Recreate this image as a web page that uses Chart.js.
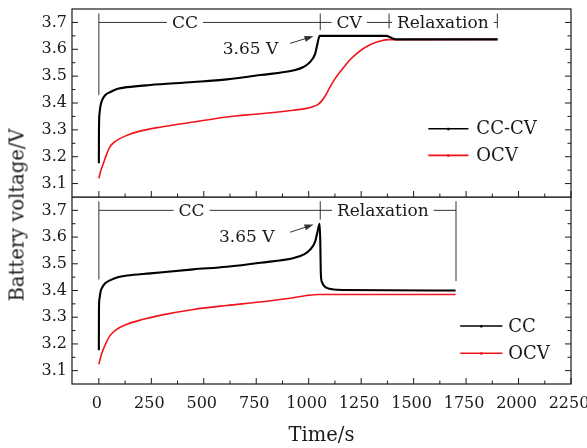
<!DOCTYPE html>
<html><head><meta charset="utf-8">
<script src="https://cdn.jsdelivr.net/npm/chart.js@4"></script>
<style>
html,body{margin:0;background:#fff}
#wrap{position:relative;width:587px;height:448px;overflow:hidden}
#top,#bot{position:absolute;left:0}
#top{top:0}
#bot{top:197px}
#ytitle{position:absolute;left:17px;top:215px;transform:translate(-50%,-50%) rotate(-90deg);font:19.5px "DejaVu Serif",serif;white-space:nowrap;color:#1a1a1a}
</style></head>
<body>
<div id="wrap">
  <canvas id="top" width="587" height="200"></canvas>
  <canvas id="bot" width="587" height="251"></canvas>
  <div id="ytitle">Battery voltage/V</div>
</div>
<script>
/* ── Data ── */
const xTicks = [0, 250, 500, 750, 1000, 1250, 1500, 1750, 2000, 2250];
const yTicks = [3.1, 3.2, 3.3, 3.4, 3.5, 3.6, 3.7];

// upper panel: CC-CV charge, then relaxation
const tCCCV = [0, 0.5, 3, 8, 15, 30, 55, 90, 135, 245, 450, 610, 770, 930, 975, 1007, 1031, 1042, 1052, 1370, 1385, 1400, 1415, 1900];
const vCCCV = [3.176, 3.30, 3.36, 3.39, 3.41, 3.429, 3.441, 3.453, 3.459, 3.467, 3.478, 3.488, 3.504, 3.522, 3.534, 3.553, 3.584, 3.622, 3.650, 3.650, 3.646, 3.640, 3.637, 3.637];
const tOCV1 = [0, 10, 21, 35, 52, 80, 132, 211, 291, 451, 609, 768, 927, 990, 1025, 1045, 1060, 1080, 1102, 1125, 1150, 1175, 1198, 1230, 1261, 1300, 1341, 1388, 1900];
const vOCV1 = [3.12, 3.15, 3.174, 3.205, 3.236, 3.258, 3.279, 3.298, 3.310, 3.329, 3.348, 3.360, 3.373, 3.380, 3.388, 3.395, 3.406, 3.428, 3.460, 3.490, 3.516, 3.541, 3.562, 3.585, 3.603, 3.620, 3.631, 3.636, 3.637];

// lower panel: CC charge, then relaxation
const tCC = [0, 0.5, 3, 8, 15, 30, 55, 90, 135, 245, 450, 610, 770, 930, 975, 1007, 1031, 1042, 1052, 1055, 1058, 1064, 1072, 1086, 1118, 1160, 1700];
const vCC = [3.176, 3.33, 3.37, 3.395, 3.41, 3.427, 3.439, 3.450, 3.456, 3.464, 3.479, 3.489, 3.504, 3.522, 3.534, 3.553, 3.584, 3.620, 3.650, 3.590, 3.460, 3.430, 3.418, 3.410, 3.404, 3.402, 3.400];
const tOCV2 = [0, 10, 21, 35, 52, 80, 132, 211, 291, 451, 609, 768, 927, 990, 1047, 1700];
const vOCV2 = [3.124, 3.155, 3.18, 3.205, 3.230, 3.252, 3.273, 3.292, 3.307, 3.329, 3.344, 3.357, 3.373, 3.381, 3.385, 3.385];

const namesTop = ['CC-CV', 'OCV'];
const namesBot = ['CC', 'OCV'];

/* ── Style ── */
const INK = '#1a1a1a', RED = '#f0141c';
const FONT = '"DejaVu Serif", serif';
Chart.defaults.font.family = FONT;
Chart.defaults.color = INK;

const pts = (ts, vs) => ts.map((t, i) => ({ x: t, y: vs[i] }));
const mids = arr => arr.slice(0, -1).map((v, i) => (v + arr[i + 1]) / 2);

/* ── Frame, inward ticks, brackets, legend ── */
const framePlugin = {
  id: 'frame',
  afterDatasetsDraw(chart, args, o) {
    const { ctx, chartArea: a, scales: { x, y } } = chart;
    const P = (t, v) => [x.getPixelForValue(t), y.getPixelForValue(v)];
    ctx.save();
    ctx.strokeStyle = INK; ctx.lineWidth = 1.2;
    ctx.strokeRect(a.left, a.top, a.right - a.left, a.bottom - a.top);

    ctx.lineWidth = 1;
    ctx.beginPath();
    yTicks.forEach(v => { const p = y.getPixelForValue(v); ctx.moveTo(a.left, p); ctx.lineTo(a.left + 6, p); ctx.moveTo(a.right, p); ctx.lineTo(a.right - 6, p); });
    mids(yTicks).forEach(v => { const p = y.getPixelForValue(v); ctx.moveTo(a.left, p); ctx.lineTo(a.left + 3.5, p); ctx.moveTo(a.right, p); ctx.lineTo(a.right - 3.5, p); });
    xTicks.forEach(t => { const p = x.getPixelForValue(t); ctx.moveTo(p, a.bottom); ctx.lineTo(p, a.bottom - 6); });
    mids(xTicks).forEach(t => { const p = x.getPixelForValue(t); ctx.moveTo(p, a.bottom); ctx.lineTo(p, a.bottom - 3.5); });
    ctx.stroke();

    // bracket lines
    ctx.strokeStyle = '#333'; ctx.lineWidth = 1;
    ctx.beginPath();
    o.lines.forEach(([t1, v1, t2, v2]) => { const [x1, y1] = P(t1, v1), [x2, y2] = P(t2, v2); ctx.moveTo(x1, y1); ctx.lineTo(x2, y2); });
    ctx.stroke();

    // arrows
    ctx.fillStyle = '#333';
    o.arrows.forEach(([t1, v1, t2, v2]) => {
      const [x1, y1] = P(t1, v1), [x2, y2] = P(t2, v2);
      const ang = Math.atan2(y2 - y1, x2 - x1), c = Math.cos(ang), s = Math.sin(ang);
      ctx.beginPath(); ctx.moveTo(x1, y1); ctx.lineTo(x2 - 6 * c, y2 - 6 * s); ctx.stroke();
      ctx.beginPath(); ctx.moveTo(x2, y2);
      ctx.lineTo(x2 - 9 * c + 3 * s, y2 - 9 * s - 3 * c);
      ctx.lineTo(x2 - 9 * c - 3 * s, y2 - 9 * s + 3 * c);
      ctx.closePath(); ctx.fill();
    });

    // labels (boxed ones cut a gap into the bracket line)
    ctx.font = '17px ' + FONT; ctx.textAlign = 'center'; ctx.textBaseline = 'middle';
    o.labels.forEach(([s, t, v, boxed]) => {
      const [px, py] = P(t, v);
      const w = ctx.measureText(s).width;
      if (boxed) { ctx.fillStyle = '#fff'; ctx.fillRect(px - w / 2 - 5, py - 3, w + 10, 6); }
      ctx.fillStyle = INK; ctx.fillText(s, px, py + 1);
    });

    // legend
    const L = o.legend;
    ctx.font = '18px ' + FONT; ctx.textAlign = 'left';
    L.rows.forEach((v, i) => {
      const [x1, py] = P(L.t1, v), [x2] = P(L.t2, v), [xt] = P(L.tText, v);
      const d = chart.data.datasets[i];
      ctx.strokeStyle = d.borderColor; ctx.lineWidth = 1.6;
      ctx.beginPath(); ctx.moveTo(x1, py); ctx.lineTo(x2, py); ctx.stroke();
      ctx.fillStyle = d.borderColor; ctx.fillRect((x1 + x2) / 2 - 1, py - 1, 2, 2.5);
      ctx.fillStyle = INK; ctx.fillText(d.label, xt, py + 1);
    });
    ctx.restore();
  }
};

/* ── Charts ── */
function makeChart(id, names, series, showX, marks) {
  return new Chart(document.getElementById(id), {
    type: 'line',
    data: { datasets: series.map(([ts, vs], i) => ({
      label: names[i], data: pts(ts, vs),
      borderColor: i ? RED : '#000', borderWidth: i ? 1.6 : 2.1,
      pointRadius: 0, cubicInterpolationMode: 'monotone', fill: false
    })) },
    options: {
      responsive: false, animation: false, events: [],
      layout: { padding: { left: 0, right: 16, top: showX ? 0 : 9, bottom: showX ? 0 : 3 } },
      plugins: { legend: { display: false }, tooltip: { enabled: false }, frame: marks },
      scales: {
        x: {
          type: 'linear', min: -128, max: 2250, display: showX,
          grid: { display: false, drawTicks: false }, border: { display: false },
          afterBuildTicks: s => { s.ticks = xTicks.map(v => ({ value: v })); },
          afterFit: s => { if (showX) s.height = 64; s.paddingLeft = 0; s.paddingRight = 0; },
          ticks: { font: { size: 16 }, color: INK, padding: 10, maxRotation: 0, autoSkip: false, labelOffset: -2, callback: v => String(v) },
          title: { display: true, text: 'Time/s', font: { size: 19.5 }, color: INK, padding: 0 }
        },
        y: {
          min: 3.05, max: 3.75,
          grid: { display: false, drawTicks: false }, border: { display: false },
          afterBuildTicks: s => { s.ticks = yTicks.map(v => ({ value: v })); },
          afterFit: s => { s.width = 72; s.paddingTop = 0; s.paddingBottom = 0; },
          ticks: { font: { size: 16 }, color: INK, padding: 5, autoSkip: false, callback: v => v.toFixed(1) }
        }
      }
    },
    plugins: [framePlugin]
  });
}

makeChart('top', namesTop, [[tCCCV, vCCCV], [tOCV1, vOCV1]], false, {
  lines: [[0, 3.429, 0, 3.733], [0, 3.70, 1899, 3.70], [1055, 3.671, 1055, 3.733], [1383, 3.678, 1383, 3.733], [1899, 3.678, 1899, 3.733]],
  labels: [['CC', 410, 3.70, true], ['CV', 1193, 3.70, true], ['Relaxation', 1639, 3.70, true], ['3.65 V', 723, 3.603, false]],
  arrows: [[911, 3.622, 1023, 3.649]],
  legend: { t1: 1570, t2: 1761, tText: 1799, rows: [3.304, 3.205] }
});

makeChart('bot', namesBot, [[tCC, vCC], [tOCV2, vOCV2]], true, {
  lines: [[0, 3.441, 0, 3.734], [0, 3.70, 1702, 3.70], [1055, 3.665, 1055, 3.734], [1702, 3.435, 1702, 3.734]],
  labels: [['CC', 442, 3.70, true], ['Relaxation', 1353, 3.70, true], ['3.65 V', 705, 3.603, false]],
  arrows: [[911, 3.618, 1023, 3.647]],
  legend: { t1: 1722, t2: 1923, tText: 1951, rows: [3.267, 3.165] }
});
</script>
</body></html>
